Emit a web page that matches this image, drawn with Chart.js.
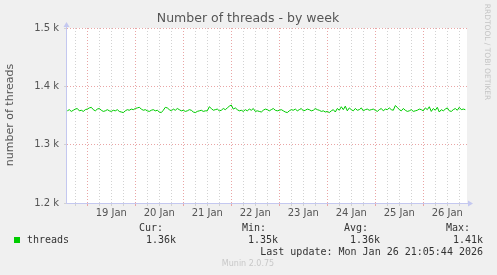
<!DOCTYPE html>
<html>
<head>
<meta charset="utf-8">
<script src="https://cdn.jsdelivr.net/npm/chart.js@4/dist/chart.umd.min.js"></script>
<style>
  html, body { margin: 0; padding: 0; background: #f0f0f0; }
  #wrap { width: 497px; height: 275px; position: relative; }
</style>
</head>
<body>
<div id="wrap"><canvas id="c" width="497" height="275"></canvas></div>
<script>
// hours counted from 18 Jan 00:00, one value per hour
const startHour = 14;
const threads = [
  1358,1360,1357,1359,1361,1362,1358,1359,1357,1360,
  1361,1363,1364,1360,1358,1361,1362,1359,1357,1358,1360,1358,1357,1359,1358,1360,1357,1356,1355,1358,1360,1359,1361,1360,
  1362,1363,1364,1361,1359,1360,1358,1357,1359,1360,1358,1359,1356,1355,1359,1364,1363,1360,1358,1361,1359,1362,1360,1358,
  1359,1357,1358,1360,1359,1356,1355,1357,1358,1359,1357,1358,1358,1365,1362,1359,1360,1361,1358,1359,1362,1360,1363,1366,
  1368,1361,1363,1360,1358,1359,1357,1360,1358,1361,1359,1362,1357,1358,1357,1356,1359,1361,1360,1358,1360,1362,1359,1358,
  1359,1360,1358,1356,1355,1358,1360,1359,1361,1358,1360,1362,1358,1359,1361,1360,1358,1359,1362,1360,1359,1357,1358,1356,
  1357,1355,1358,1360,1356,1362,1359,1365,1360,1366,1358,1363,1360,1358,1362,1359,1360,1363,1358,1360,1361,1359,1360,1361,
  1359,1357,1360,1362,1358,1361,1360,1363,1360,1359,1367,1364,1360,1358,1362,1359,1357,1358,1360,1357,1358,1359,1361,1360,
  1358,1363,1360,1365,1357,1362,1359,1364,1356,1360,1358,1361,1363,1358,1357,1360,1362,1359,1364,1360,1361,1360
];
const dayLabels = ['19 Jan', '20 Jan', '21 Jan', '22 Jan', '23 Jan', '24 Jan', '25 Jan', '26 Jan'];
const yTicks = [1200, 1300, 1400, 1500];
const legendCols = ['Cur:', 'Min:', 'Avg:', 'Max:'];
const legendVals = ['1.36k', '1.35k', '1.36k', '1.41k'];

const points = threads.map((v, i) => ({ x: startHour + i, y: v }));

const RED = 'rgba(232,160,160,0.95)';
const GREY = 'rgba(208,208,208,0.95)';

const munin = {
  id: 'munin',
  beforeDraw(chart) {
    const { ctx, chartArea: a } = chart;
    ctx.save();
    ctx.fillStyle = '#f0f0f0';
    ctx.fillRect(0, 0, chart.width, chart.height);
    ctx.fillStyle = '#ffffff';
    ctx.fillRect(a.left, a.top, a.right - a.left, a.bottom - a.top);
    ctx.restore();
  },
  afterDraw(chart) {
    const { ctx, chartArea: a } = chart;
    ctx.save();
    // axes with arrows
    ctx.strokeStyle = '#c4c8f0';
    ctx.fillStyle = '#c4c8f0';
    ctx.lineWidth = 1;
    ctx.beginPath();
    ctx.moveTo(a.left - 0.5, a.bottom + 0.5);
    ctx.lineTo(a.right + 2, a.bottom + 0.5);
    ctx.moveTo(a.left - 0.5, a.bottom + 0.5);
    ctx.lineTo(a.left - 0.5, a.top - 2);
    ctx.stroke();
    ctx.beginPath();
    ctx.moveTo(a.right + 6, a.bottom + 0.5);
    ctx.lineTo(a.right + 1, a.bottom - 2.5);
    ctx.lineTo(a.right + 1, a.bottom + 3.5);
    ctx.fill();
    ctx.beginPath();
    ctx.moveTo(a.left - 0.5, a.top - 6);
    ctx.lineTo(a.left - 3.5, a.top - 1);
    ctx.lineTo(a.left + 2.5, a.top - 1);
    ctx.fill();

    // title
    ctx.fillStyle = '#555';
    ctx.font = '12.5px "DejaVu Sans"';
    ctx.textAlign = 'center';
    ctx.textBaseline = 'middle';
    ctx.fillText('Number of threads - by week', 248, 19);

    // y title
    ctx.save();
    ctx.translate(10, 115);
    ctx.rotate(-Math.PI / 2);
    ctx.font = '11px "DejaVu Sans"';
    ctx.fillText('number of threads', 0, 0);
    ctx.restore();

    // rrdtool credit
    ctx.save();
    ctx.translate(487, 52);
    ctx.rotate(Math.PI / 2);
    ctx.fillStyle = '#c4c4c4';
    ctx.font = '7.5px "DejaVu Sans"';
    ctx.fillText('RRDTOOL / TOBI OETIKER', 0, 0);
    ctx.restore();

    // legend
    ctx.font = '10px "DejaVu Sans Mono"';
    ctx.fillStyle = '#00cc00';
    ctx.fillRect(14, 237, 6, 6);
    ctx.fillStyle = '#333';
    ctx.textAlign = 'left';
    ctx.fillText('threads', 27, 240);
    ctx.textAlign = 'right';
    const colRight = [163, 266, 368, 470];
    const valRight = [176, 278, 380, 483];
    legendCols.forEach((t, i) => ctx.fillText(t, colRight[i], 228));
    legendVals.forEach((t, i) => ctx.fillText(t, valRight[i], 240));
    ctx.fillText('Last update: Mon Jan 26 21:05:44 2026', 483, 252);
    ctx.textAlign = 'center';
    ctx.fillStyle = '#c8c8c8';
    ctx.font = '8px "DejaVu Sans"';
    ctx.fillText('Munin 2.0.75', 248, 264);
    ctx.restore();
  }
};

new Chart(document.getElementById('c'), {
  type: 'line',
  data: {
    datasets: [{
      label: 'threads',
      data: points,
      borderColor: '#00cc00',
      borderWidth: 1,
      pointRadius: 0,
      tension: 0,
      fill: false
    }]
  },
  options: {
    responsive: false,
    animation: false,
    events: [],
    layout: { padding: { top: 28, right: 30, bottom: 52, left: 0 } },
    plugins: { legend: { display: false }, tooltip: { enabled: false }, title: { display: false } },
    scales: {
      x: {
        type: 'linear',
        min: 13.85,
        max: 213.85,
        afterFit(s) { s.height = 20; },
        afterBuildTicks(s) {
          const t = [];
          for (let v = 18; v <= 210; v += 6) t.push({ value: v });
          s.ticks = t;
        },
        ticks: {
          autoSkip: false,
          maxRotation: 0,
          padding: 1,
          color: '#555',
          font: { family: 'DejaVu Sans', size: 10 },
          callback: (v) => (v % 24 === 12 ? dayLabels[(v - 36) / 24] : '')
        },
        grid: {
          color: (c) => (c.tick && c.tick.value % 24 === 0 ? RED : GREY),
          tickColor: (c) => (c.tick && c.tick.value % 24 === 0 ? RED : GREY),
          tickLength: 3,
          lineWidth: 1
        },
        border: { display: false, dash: [1, 2] }
      },
      y: {
        min: 1200,
        max: 1500,
        afterFit(s) { s.width = 67; },
        afterBuildTicks(s) { s.ticks = yTicks.map((v) => ({ value: v })); },
        ticks: {
          padding: 5,
          color: '#555',
          font: { family: 'DejaVu Sans', size: 10 },
          callback: (v) => (v / 1000).toFixed(1) + ' k'
        },
        grid: {
          color: (c) => (c.tick && c.tick.value === 1200 ? 'rgba(0,0,0,0)' : RED),
          tickColor: GREY,
          tickLength: 3,
          lineWidth: 1
        },
        border: { display: false, dash: [1, 2] }
      }
    }
  },
  plugins: [munin]
});
</script>
</body>
</html>
